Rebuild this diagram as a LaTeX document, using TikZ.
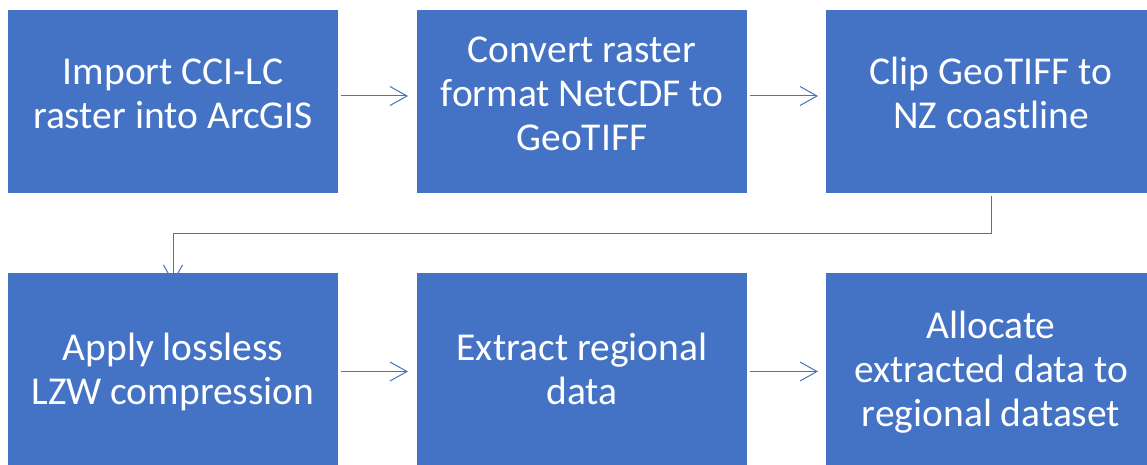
\documentclass[tikz,border=0pt]{standalone}
\usepackage{fontspec}
\setmainfont{Carlito}
\usetikzlibrary{arrows.meta}
\definecolor{stepblue}{HTML}{4472C4}
\tikzset{
  stepbox/.style={fill=stepblue, minimum width=330pt, minimum height=#1,
    inner sep=0pt, outer sep=0pt},
  steptext/.style={text=white, align=center, inner sep=0pt,
    font=\fontsize{39.5}{44}\selectfont},
  flow/.style={draw=stepblue, line width=1pt,
    -{Straight Barb[length=17pt,width=19pt]}}
}
\begin{document}
\begin{tikzpicture}[x=1pt, y=-1pt]
  \clip (0,0) rectangle (1147,465);

  % top row
  \node[stepbox=183pt, label={[steptext,yshift=3.5pt]center:{\strut Import CCI-LC\\\strut raster into ArcGIS}}] (b1) at (173,101.5) {};
  \node[stepbox=183pt, label={[steptext,yshift=3.5pt]center:{\strut Convert raster\\\strut format NetCDF to\\\strut GeoTIFF}}] (b2) at (582,101.5) {};
  \node[stepbox=183pt, label={[steptext,yshift=3.5pt]center:{\strut Clip GeoTIFF to\\\strut NZ coastline}}] (b3) at (991,101.5) {};

  % bottom row
  \node[stepbox=197pt, label={[steptext,yshift=-2.5pt]center:{\strut Apply lossless\\\strut LZW compression}}] (b4) at (173,371.5) {};
  \node[stepbox=197pt, label={[steptext,yshift=-2.5pt]center:{\strut Extract regional\\\strut data}}] (b5) at (582,371.5) {};
  \node[stepbox=197pt, label={[steptext,yshift=-2.5pt]center:{\strut Allocate\\\strut extracted data to\\\strut regional dataset}}] (b6) at (991,371.5) {};

  % connectors
  \draw[flow] ([xshift=3pt,yshift=5.5pt]b1.east) -- ([xshift=-9pt,yshift=5.5pt]b2.west);
  \draw[flow] ([xshift=3pt,yshift=5.5pt]b2.east) -- ([xshift=-8pt,yshift=5.5pt]b3.west);
  \draw[flow] ([yshift=-3pt]b3.south) -- ++(0,37) -| ([yshift=-10pt]b4.north);
  \draw[flow] ([xshift=3pt]b4.east) -- ([xshift=-9pt]b5.west);
  \draw[flow] ([xshift=3pt]b5.east) -- ([xshift=-8pt]b6.west);
\end{tikzpicture}
\end{document}
